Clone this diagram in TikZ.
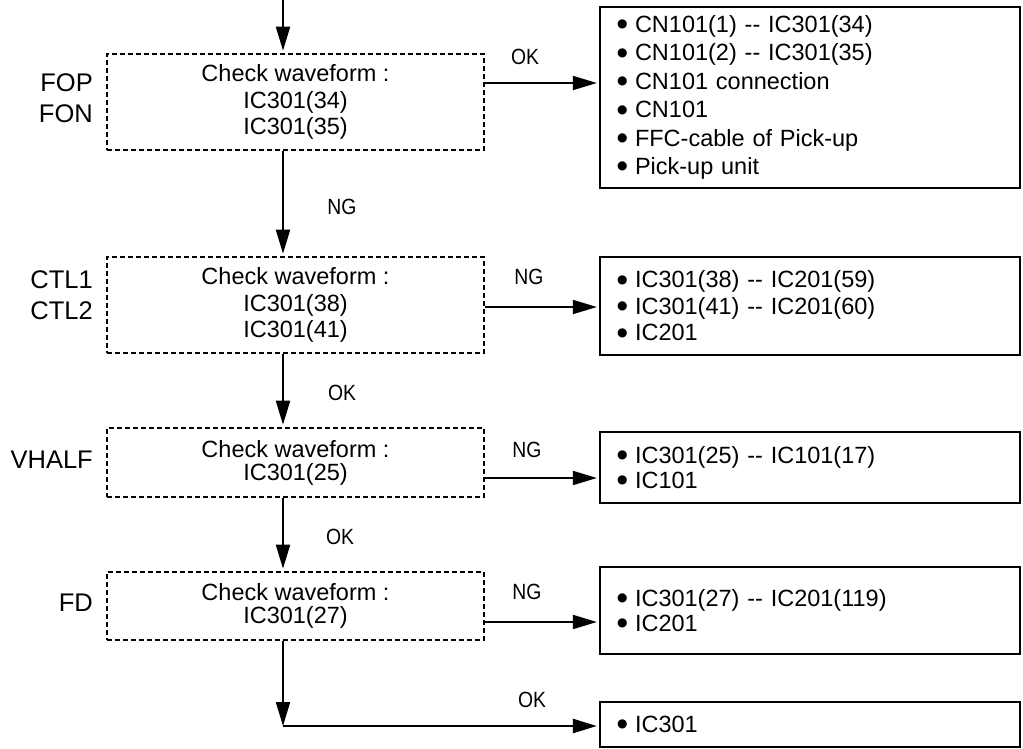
\documentclass[tikz,border=0pt]{standalone}
\usepackage{fontspec}
\setmainfont{Liberation Sans}
\newfontfamily\dvfont{DejaVu Sans}
\usetikzlibrary{arrows.meta}
\newcommand\bul{\makebox[20pt][l]{\hspace{2pt}\raisebox{4.6pt}{\dvfont\fontsize{12}{0}\selectfont ●}}}
\newcommand\tg[1]{\scalebox{0.88}[1]{#1}}
\begin{document}
\begin{tikzpicture}[x=1pt,y=-1pt,
  dbox/.style={draw, line width=2.6pt, dash pattern=on 5pt off 3pt, minimum width=377pt, align=center, inner sep=0pt, font=\fontsize{23.5}{26.5}\selectfont},
  rbox/.style={draw, line width=2.3pt, text width=390pt, inner xsep=15pt, inner ysep=0pt, align=left, font=\fontsize{23.5}{26.5}\selectfont},
  lbl/.style={font=\fontsize{25.5}{31}\selectfont, align=right, anchor=east, inner sep=0pt},
  tag/.style={font=\fontsize{22}{24}\selectfont, inner sep=0pt},
  arr/.style={line width=2pt, -{Triangle[length=24pt,width=14pt]}, shorten >=2pt},
]
\useasboundingbox (0,0) rectangle (1023,749);
\coordinate (ax) at (283,0);

% dashed check boxes
\node[dbox, minimum height=96pt] (b1) at (295.5,102) {Check waveform :\\IC301(34)\\IC301(35)};
\node[dbox, minimum height=96pt] (b2) at (295.5,305) {Check waveform :\\IC301(38)\\IC301(41)};
\node[dbox, minimum height=69pt, font=\fontsize{23.5}{23}\selectfont] (b3) at (295.5,462.5) {Check waveform :\\IC301(25)};
\node[dbox, minimum height=68pt, font=\fontsize{23.5}{23}\selectfont] (b4) at (295.5,606) {Check waveform :\\IC301(27)};

% left labels
\node[lbl] (l1) at (93,98) {FOP\\FON};
\node[lbl] (l2) at (93,295) {CTL1\\CTL2};
\node[lbl] (l3) at (93,460) {VHALF};
\node[lbl] (l4) at (93,603) {FD};

% result boxes
\node[rbox, minimum height=181pt, font=\fontsize{23.5}{28.4}\selectfont] (r1) at (810,97.5) {\bul CN101(1) -{}- IC301(34)\\\bul CN101(2) -{}- IC301(35)\\\bul CN101 connection\\\bul CN101\\\bul FFC-cable of Pick-up\\\bul Pick-up unit};
\node[rbox, minimum height=98pt] (r2) at (810,306) {\bul IC301(38) -{}- IC201(59)\\\bul IC301(41) -{}- IC201(60)\\\bul IC201};
\node[rbox, minimum height=71pt, font=\fontsize{23.5}{25}\selectfont] (r3) at (810,467.5) {\bul IC301(25) -{}- IC101(17)\\\bul IC101};
\node[rbox, minimum height=87pt, font=\fontsize{23.5}{25}\selectfont] (r4) at (810,610.5) {\bul IC301(27) -{}- IC201(119)\\\bul IC201};
\node[rbox, minimum height=45pt] (r5) at (810,724.5) {\bul IC301};

% vertical flow
\draw[arr] (ax) -- (ax |- b1.north);
\draw[arr] (b1.south -| ax) -- (b2.north -| ax);
\draw[arr] (b2.south -| ax) -- (b3.north -| ax);
\draw[arr] (b3.south -| ax) -- (b4.north -| ax);
\coordinate (corner) at (283,726);
\draw[arr, shorten >=0pt] (b4.south -| ax) -- (corner);
\draw[arr, line width=2.4pt] (corner) -- (corner -| r5.west);

% horizontal branches
\draw[arr] (b1.east |- 0,83) -- (r1.west |- 0,83);
\draw[arr] (b2.east |- 0,307) -- (r2.west |- 0,307);
\draw[arr] (b3.east |- 0,478) -- (r3.west |- 0,478);
\draw[arr] (b4.east |- 0,622) -- (r4.west |- 0,622);

% tags
\node[tag] (t1) at (525,57) {\tg{OK}};
\node[tag] (t2) at (342,207) {\tg{NG}};
\node[tag] (t3) at (529,277) {\tg{NG}};
\node[tag] (t4) at (342,393) {\tg{OK}};
\node[tag] (t5) at (527,450) {\tg{NG}};
\node[tag] (t6) at (340,537) {\tg{OK}};
\node[tag] (t7) at (527,592) {\tg{NG}};
\node[tag] (t8) at (532,700) {\tg{OK}};
\end{tikzpicture}
\end{document}
